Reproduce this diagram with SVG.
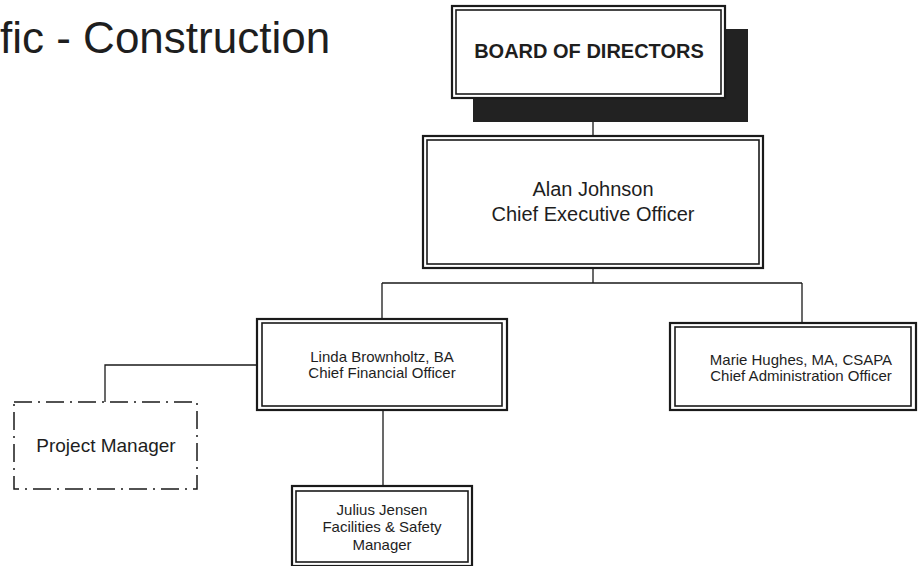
<svg xmlns="http://www.w3.org/2000/svg" width="918" height="566" viewBox="0 0 918 566">
<style>
.o{fill:#fff;stroke:#1a1a1a;stroke-width:2.2}
.i{fill:none;stroke:#1a1a1a;stroke-width:1.6}
.t{font-family:"Liberation Sans",Arial,sans-serif;fill:#1e1e1e;text-anchor:middle}
.c{fill:none;stroke:#1a1a1a;stroke-width:1.3}
</style>
<rect width="918" height="566" fill="#fff"/>
<text x="0" y="53" font-family="Liberation Sans, Arial, sans-serif" font-size="44" fill="#1e1e1e">fic - Construction</text>
<g id="connectors">
<path class="c" d="M593 122V136M593 268V283M382 283H802M382 283V319M802 283V323M383 410V486M257 365H105V402"/>
</g>
<g id="board">
<rect x="473" y="29" width="275" height="93" fill="#222"/>
<rect class="o" x="452" y="6" width="273" height="92"/>
<rect class="i" x="456" y="10" width="265" height="84"/>
<text class="t" x="589" y="58" font-size="20" font-weight="bold">BOARD OF DIRECTORS</text>
</g>
<g id="ceo">
<rect class="o" x="423" y="136" width="340" height="132"/>
<rect class="i" x="427" y="140" width="332" height="124"/>
<text class="t" x="593" y="196" font-size="20">Alan Johnson</text>
<text class="t" x="593" y="221" font-size="20">Chief Executive Officer</text>
</g>
<g id="cfo">
<rect class="o" x="257" y="319" width="250" height="91"/>
<rect class="i" x="262" y="323" width="240" height="83"/>
<text class="t" x="382" y="362" font-size="15">Linda Brownholtz, BA</text>
<text class="t" x="382" y="378" font-size="15">Chief Financial Officer</text>
</g>
<g id="cao">
<rect class="o" x="670" y="323" width="246" height="87"/>
<rect class="i" x="675" y="327" width="236" height="79"/>
<text class="t" x="801" y="365" font-size="15">Marie Hughes, MA, CSAPA</text>
<text class="t" x="801" y="381" font-size="15">Chief Administration Officer</text>
</g>
<g id="pm">
<rect x="14" y="402" width="183" height="87" fill="#fff" stroke="#1a1a1a" stroke-width="1.5" stroke-dasharray="18 6 2 6"/>
<text class="t" x="106" y="452" font-size="19">Project Manager</text>
</g>
<g id="facilities">
<rect class="o" x="292" y="486" width="180" height="80"/>
<rect class="i" x="296" y="491" width="172" height="71"/>
<text class="t" x="382" y="515" font-size="15">Julius Jensen</text>
<text class="t" x="382" y="532" font-size="15">Facilities &amp; Safety</text>
<text class="t" x="382" y="550" font-size="15">Manager</text>
</g>
</svg>
